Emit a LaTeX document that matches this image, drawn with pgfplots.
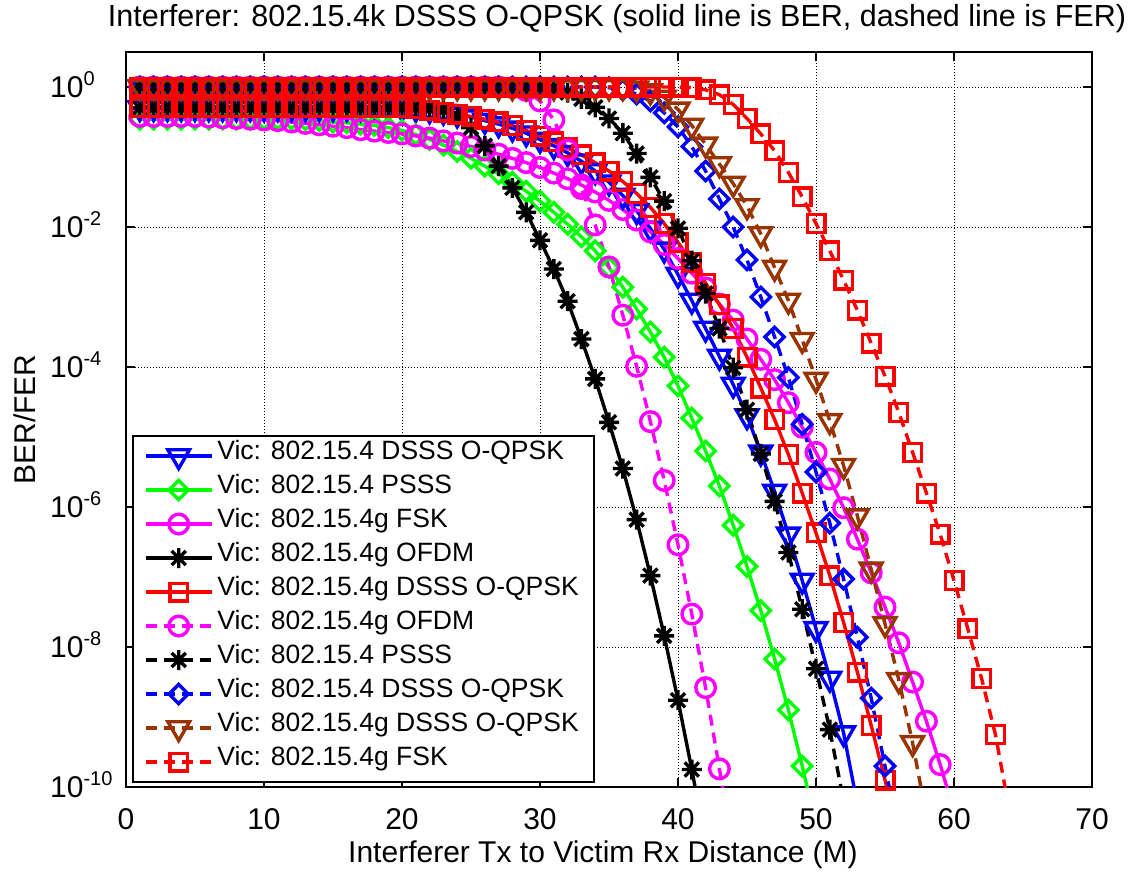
\documentclass[border=0pt]{standalone}
\usepackage{fontspec}
\setmainfont{Liberation Sans}
\usepackage{pgfplots}
\usepackage{pgfplotstable}
\pgfplotsset{compat=1.18}

\definecolor{vbrown}{rgb}{0.6,0.2,0}
\definecolor{vmag}{rgb}{1,0,1}
\definecolor{vgreen}{rgb}{0,1,0}
\definecolor{vblue}{rgb}{0,0,1}
\definecolor{vred}{rgb}{1,0,0}

% 8-arm asterisk like the matlab '*' marker
\pgfdeclareplotmark{ast8}{%
  \pgfpathmoveto{\pgfqpoint{-\pgfplotmarksize}{0pt}}\pgfpathlineto{\pgfqpoint{\pgfplotmarksize}{0pt}}%
  \pgfpathmoveto{\pgfqpoint{0pt}{-\pgfplotmarksize}}\pgfpathlineto{\pgfqpoint{0pt}{\pgfplotmarksize}}%
  \pgfpathmoveto{\pgfqpoint{-.7071\pgfplotmarksize}{-.7071\pgfplotmarksize}}\pgfpathlineto{\pgfqpoint{.7071\pgfplotmarksize}{.7071\pgfplotmarksize}}%
  \pgfpathmoveto{\pgfqpoint{-.7071\pgfplotmarksize}{.7071\pgfplotmarksize}}\pgfpathlineto{\pgfqpoint{.7071\pgfplotmarksize}{-.7071\pgfplotmarksize}}%
  \pgfusepathqstroke}

\newcommand{\tenexp}[1]{10\raisebox{12pt}{\fontsize{20}{20}\selectfont #1}}

% log10 of BER / FER, one table per curve
\pgfplotstableread[row sep=\\]{x l\\
1 -0.30\\ 2 -0.30\\ 3 -0.30\\ 4 -0.30\\ 5 -0.30\\ 6 -0.30\\ 7 -0.30\\ 8 -0.30\\ 9 -0.30\\ 10 -0.30\\
11 -0.30\\ 12 -0.30\\ 13 -0.30\\ 14 -0.30\\ 15 -0.30\\ 16 -0.30\\ 17 -0.30\\ 18 -0.30\\ 19 -0.30\\ 20 -0.30\\
21 -0.31\\ 22 -0.33\\ 23 -0.35\\ 24 -0.39\\ 25 -0.43\\ 26 -0.48\\ 27 -0.53\\ 28 -0.59\\ 29 -0.66\\ 30 -0.75\\
31 -0.84\\ 32 -0.94\\ 33 -1.06\\ 34 -1.20\\ 35 -1.36\\ 36 -1.55\\ 37 -1.77\\ 38 -2.02\\ 39 -2.32\\ 40 -2.68\\
41 -3.05\\ 42 -3.45\\ 43 -3.85\\ 44 -4.25\\ 45 -4.70\\ 46 -5.22\\ 47 -5.78\\ 48 -6.39\\ 49 -7.05\\ 50 -7.74\\
51 -8.45\\ 52 -9.23\\ 53 -10.25\\}\tblBS

\pgfplotstableread[row sep=\\]{x l\\
1 -0.46\\ 2 -0.46\\ 3 -0.46\\ 4 -0.46\\ 5 -0.46\\ 6 -0.46\\ 7 -0.46\\ 8 -0.46\\ 9 -0.46\\ 10 -0.46\\
11 -0.46\\ 12 -0.46\\ 13 -0.47\\ 14 -0.48\\ 15 -0.50\\ 16 -0.51\\ 17 -0.53\\ 18 -0.55\\ 19 -0.58\\ 20 -0.62\\
21 -0.68\\ 22 -0.75\\ 23 -0.83\\ 24 -0.92\\ 25 -1.02\\ 26 -1.13\\ 27 -1.24\\ 28 -1.36\\ 29 -1.49\\ 30 -1.63\\
31 -1.79\\ 32 -1.96\\ 33 -2.14\\ 34 -2.34\\ 35 -2.58\\ 36 -2.86\\ 37 -3.17\\ 38 -3.50\\ 39 -3.86\\ 40 -4.27\\
41 -4.73\\ 42 -5.20\\ 43 -5.70\\ 44 -6.26\\ 45 -6.85\\ 46 -7.48\\ 47 -8.17\\ 48 -8.90\\ 49 -9.70\\ 50 -10.55\\}\tblGS

\pgfplotstableread[row sep=\\]{x l\\
1 -0.42\\ 2 -0.42\\ 3 -0.42\\ 4 -0.42\\ 5 -0.42\\ 6 -0.43\\ 7 -0.44\\ 8 -0.45\\ 9 -0.46\\ 10 -0.47\\
11 -0.48\\ 12 -0.50\\ 13 -0.52\\ 14 -0.54\\ 15 -0.56\\ 16 -0.58\\ 17 -0.61\\ 18 -0.63\\ 19 -0.65\\ 20 -0.67\\
21 -0.70\\ 22 -0.73\\ 23 -0.77\\ 24 -0.80\\ 25 -0.85\\ 26 -0.90\\ 27 -0.96\\ 28 -1.02\\ 29 -1.08\\ 30 -1.15\\
31 -1.23\\ 32 -1.31\\ 33 -1.40\\ 34 -1.50\\ 35 -1.62\\ 36 -1.75\\ 37 -1.90\\ 38 -2.07\\ 39 -2.25\\ 40 -2.45\\
41 -2.66\\ 42 -2.87\\ 43 -3.10\\ 44 -3.33\\ 45 -3.60\\ 46 -3.89\\ 47 -4.18\\ 48 -4.51\\ 49 -4.86\\ 50 -5.22\\
51 -5.60\\ 52 -6.01\\ 53 -6.46\\ 54 -6.94\\ 55 -7.43\\ 56 -7.94\\ 57 -8.50\\ 58 -9.06\\ 59 -9.68\\ 60 -10.35\\}\tblMS

\pgfplotstableread[row sep=\\]{x l\\
1 -0.30\\ 2 -0.30\\ 3 -0.30\\ 4 -0.30\\ 5 -0.30\\ 6 -0.30\\ 7 -0.30\\ 8 -0.30\\ 9 -0.30\\ 10 -0.30\\
11 -0.30\\ 12 -0.30\\ 13 -0.30\\ 14 -0.30\\ 15 -0.30\\ 16 -0.30\\ 17 -0.30\\ 18 -0.30\\ 19 -0.30\\ 20 -0.30\\
21 -0.30\\ 22 -0.31\\ 23 -0.33\\ 24 -0.41\\ 25 -0.58\\ 26 -0.84\\ 27 -1.13\\ 28 -1.44\\ 29 -1.79\\ 30 -2.19\\
31 -2.60\\ 32 -3.06\\ 33 -3.60\\ 34 -4.17\\ 35 -4.79\\ 36 -5.45\\ 37 -6.18\\ 38 -6.98\\ 39 -7.84\\ 40 -8.76\\
41 -9.75\\ 42 -10.80\\}\tblKS

\pgfplotstableread[row sep=\\]{x l\\
1 -0.30\\ 2 -0.30\\ 3 -0.30\\ 4 -0.30\\ 5 -0.30\\ 6 -0.30\\ 7 -0.30\\ 8 -0.30\\ 9 -0.30\\ 10 -0.30\\
11 -0.30\\ 12 -0.30\\ 13 -0.30\\ 14 -0.30\\ 15 -0.30\\ 16 -0.30\\ 17 -0.30\\ 18 -0.30\\ 19 -0.30\\ 20 -0.30\\
21 -0.31\\ 22 -0.33\\ 23 -0.36\\ 24 -0.39\\ 25 -0.42\\ 26 -0.46\\ 27 -0.50\\ 28 -0.55\\ 29 -0.62\\ 30 -0.70\\
31 -0.78\\ 32 -0.87\\ 33 -0.97\\ 34 -1.08\\ 35 -1.20\\ 36 -1.35\\ 37 -1.52\\ 38 -1.72\\ 39 -1.95\\ 40 -2.22\\
41 -2.50\\ 42 -2.80\\ 43 -3.11\\ 44 -3.45\\ 45 -3.86\\ 46 -4.30\\ 47 -4.75\\ 48 -5.25\\ 49 -5.80\\ 50 -6.37\\
51 -6.98\\ 52 -7.65\\ 53 -8.36\\ 54 -9.12\\ 55 -9.90\\ 56 -10.75\\}\tblRS

\pgfplotstableread[row sep=\\]{x l\\
1 0\\ 2 0\\ 3 0\\ 4 0\\ 5 0\\ 6 0\\ 7 0\\ 8 0\\ 9 0\\ 10 0\\
11 0\\ 12 0\\ 13 0\\ 14 0\\ 15 0\\ 16 0\\ 17 0\\ 18 0\\ 19 0\\ 20 0\\
21 0\\ 22 0\\ 23 0\\ 24 0\\ 25 0\\ 26 0\\ 27 0\\ 28 -0.01\\ 29 -0.05\\ 30 -0.20\\
31 -0.47\\ 32 -0.90\\ 33 -1.45\\ 34 -1.97\\ 35 -2.57\\ 36 -3.26\\ 37 -3.99\\ 38 -4.78\\ 39 -5.62\\ 40 -6.54\\
41 -7.53\\ 42 -8.58\\ 43 -9.74\\ 44 -10.90\\}\tblMD

\pgfplotstableread[row sep=\\]{x l\\
1 0\\ 2 0\\ 3 0\\ 4 0\\ 5 0\\ 6 0\\ 7 0\\ 8 0\\ 9 0\\ 10 0\\
11 0\\ 12 0\\ 13 0\\ 14 0\\ 15 0\\ 16 0\\ 17 0\\ 18 0\\ 19 0\\ 20 0\\
21 0\\ 22 0\\ 23 0\\ 24 0\\ 25 0\\ 26 0\\ 27 0\\ 28 0\\ 29 0\\ 30 0\\
31 -0.02\\ 32 -0.08\\ 33 -0.17\\ 34 -0.29\\ 35 -0.45\\ 36 -0.66\\ 37 -0.95\\ 38 -1.29\\ 39 -1.63\\ 40 -2.02\\
41 -2.48\\ 42 -2.95\\ 43 -3.45\\ 44 -4.01\\ 45 -4.61\\ 46 -5.24\\ 47 -5.92\\ 48 -6.65\\ 49 -7.46\\ 50 -8.31\\
51 -9.18\\ 52 -10.20\\}\tblKD

\pgfplotstableread[row sep=\\]{x l\\
1 0\\ 2 0\\ 3 0\\ 4 0\\ 5 0\\ 6 0\\ 7 0\\ 8 0\\ 9 0\\ 10 0\\
11 0\\ 12 0\\ 13 0\\ 14 0\\ 15 0\\ 16 0\\ 17 0\\ 18 0\\ 19 0\\ 20 0\\
21 0\\ 22 0\\ 23 0\\ 24 0\\ 25 0\\ 26 0\\ 27 0\\ 28 0\\ 29 0\\ 30 0\\
31 0\\ 32 0\\ 33 0\\ 34 0\\ 35 -0.01\\ 36 -0.04\\ 37 -0.10\\ 38 -0.20\\ 39 -0.37\\ 40 -0.57\\
41 -0.85\\ 42 -1.20\\ 43 -1.60\\ 44 -2.00\\ 45 -2.47\\ 46 -3.00\\ 47 -3.57\\ 48 -4.15\\ 49 -4.82\\ 50 -5.50\\
51 -6.23\\ 52 -7.03\\ 53 -7.86\\ 54 -8.73\\ 55 -9.70\\ 56 -10.70\\}\tblBD

\pgfplotstableread[row sep=\\]{x l\\
1 0\\ 2 0\\ 3 0\\ 4 0\\ 5 0\\ 6 0\\ 7 0\\ 8 0\\ 9 0\\ 10 0\\
11 0\\ 12 0\\ 13 0\\ 14 0\\ 15 0\\ 16 0\\ 17 0\\ 18 0\\ 19 0\\ 20 0\\
21 0\\ 22 0\\ 23 0\\ 24 0\\ 25 0\\ 26 0\\ 27 0\\ 28 0\\ 29 0\\ 30 0\\
31 0\\ 32 0\\ 33 0\\ 34 0\\ 35 0\\ 36 0\\ 37 -0.02\\ 38 -0.06\\ 39 -0.15\\ 40 -0.32\\
41 -0.55\\ 42 -0.82\\ 43 -1.10\\ 44 -1.38\\ 45 -1.70\\ 46 -2.10\\ 47 -2.58\\ 48 -3.05\\ 49 -3.61\\ 50 -4.18\\
51 -4.77\\ 52 -5.41\\ 53 -6.13\\ 54 -6.89\\ 55 -7.67\\ 56 -8.47\\ 57 -9.37\\ 58 -10.42\\}\tblND

\pgfplotstableread[row sep=\\]{x l\\
1 0\\ 2 0\\ 3 0\\ 4 0\\ 5 0\\ 6 0\\ 7 0\\ 8 0\\ 9 0\\ 10 0\\
11 0\\ 12 0\\ 13 0\\ 14 0\\ 15 0\\ 16 0\\ 17 0\\ 18 0\\ 19 0\\ 20 0\\
21 0\\ 22 0\\ 23 0\\ 24 0\\ 25 0\\ 26 0\\ 27 0\\ 28 0\\ 29 0\\ 30 0\\
31 0\\ 32 0\\ 33 0\\ 34 0\\ 35 0\\ 36 0\\ 37 0\\ 38 0\\ 39 0\\ 40 0\\
41 -0.01\\ 42 -0.04\\ 43 -0.11\\ 44 -0.25\\ 45 -0.45\\ 46 -0.67\\ 47 -0.91\\ 48 -1.22\\ 49 -1.57\\ 50 -1.95\\
51 -2.34\\ 52 -2.76\\ 53 -3.19\\ 54 -3.66\\ 55 -4.13\\ 56 -4.65\\ 57 -5.22\\ 58 -5.80\\ 59 -6.39\\ 60 -7.05\\
61 -7.74\\ 62 -8.45\\ 63 -9.25\\ 64 -10.32\\}\tblRD

\pgfplotsset{
  ber/.style={line width=3.4pt, solid},
  fer/.style={line width=3.4pt, dash pattern=on 11pt off 7pt},
}

\begin{document}
\begin{tikzpicture}
\begin{axis}[
  scale only axis,
  width=966pt, height=735pt,
  xmin=0, xmax=70,
  ymode=log, ymin=1e-10, ymax=3.1623,
  xtick={0,10,...,70},
  ytick={1e-10,1e-8,1e-6,1e-4,1e-2,1},
  yticklabels={\tenexp{-10},\tenexp{-8},\tenexp{-6},\tenexp{-4},\tenexp{-2},\tenexp{0}},
  yminorticks=false,
  grid=major,
  grid style={black, line width=1pt, dash pattern=on 1.2pt off 1.8pt},
  axis line style={black, line width=2.5pt},
  tick style={black, line width=1.5pt},
  major tick length=9pt,
  tick align=inside,
  font=\fontsize{30}{36}\selectfont,
  /pgf/number format/assume math mode=true,
  xticklabel style={anchor=base, yshift=-42pt},
  yticklabel style={anchor=base west, inner sep=0pt, xshift=-76pt, yshift=-10.5pt},
  title={Interferer: 802.15.4k DSSS O-QPSK (solid line is BER, dashed line is FER)},
  title style={at={(rel axis cs:0.5,1)}, anchor=base, yshift=20pt, xshift=8pt, font=\fontsize{30.5}{36}\selectfont},
  xlabel={Interferer Tx to Victim Rx Distance (M)},
  xlabel style={at={(rel axis cs:0.5,0)}, anchor=base, yshift=-75pt, xshift=-6pt},
  ylabel={BER/FER},
  ylabel style={at={(rel axis cs:0,0.5)}, anchor=center, yshift=101pt},
  legend style={at={(rel axis cs:0,0)}, anchor=south west, xshift=6pt, yshift=4pt,
    draw=black, line width=2pt, fill=white,
    font=\fontsize{26.5}{31}\selectfont,
    inner xsep=11pt, inner ysep=3pt, row sep=0pt,
    nodes={inner xsep=4pt, inner ysep=0pt, text height=20pt, text depth=14pt}},
  legend cell align=left,
  legend image code/.code={\draw[mark repeat=2,mark phase=2,#1] plot coordinates {(0pt,0pt)(33pt,0pt)(66pt,0pt)};},
]
\addplot[ber, vblue, mark=triangle, mark size=12.5pt, mark options={solid, rotate=180}] table[x=x, y expr=10^\thisrow{l}] {\tblBS};
\addplot[ber, vgreen, mark=square, mark size=6.8pt, mark options={solid, rotate=45}] table[x=x, y expr=10^\thisrow{l}] {\tblGS};
\addplot[ber, vmag, mark=o, mark size=9.8pt, mark options={solid}] table[x=x, y expr=10^\thisrow{l}] {\tblMS};
\addplot[ber, black, mark=ast8, mark size=10pt, mark options={solid}] table[x=x, y expr=10^\thisrow{l}] {\tblKS};
\addplot[ber, vred, mark=square, mark size=8.8pt, mark options={solid}] table[x=x, y expr=10^\thisrow{l}] {\tblRS};
\addplot[fer, vmag, mark=o, mark size=9.8pt, mark options={solid}] table[x=x, y expr=10^\thisrow{l}] {\tblMD};
\addplot[fer, black, mark=ast8, mark size=10pt, mark options={solid}] table[x=x, y expr=10^\thisrow{l}] {\tblKD};
\addplot[fer, vblue, mark=square, mark size=6.8pt, mark options={solid, rotate=45}] table[x=x, y expr=10^\thisrow{l}] {\tblBD};
\addplot[fer, vbrown, mark=triangle, mark size=12.5pt, mark options={solid, rotate=180}] table[x=x, y expr=10^\thisrow{l}] {\tblND};
\addplot[fer, vred, mark=square, mark size=8.8pt, mark options={solid}] table[x=x, y expr=10^\thisrow{l}] {\tblRD};
\legend{Vic: 802.15.4 DSSS O-QPSK, Vic: 802.15.4 PSSS, Vic: 802.15.4g FSK, Vic: 802.15.4g OFDM, Vic: 802.15.4g DSSS O-QPSK, Vic: 802.15.4g OFDM, Vic: 802.15.4 PSSS, Vic: 802.15.4 DSSS O-QPSK, Vic: 802.15.4g DSSS O-QPSK, Vic: 802.15.4g FSK}
\end{axis}
\pgfresetboundingbox
\path[use as bounding box] ([shift={(-126pt,-86pt)}]current axis.south west) rectangle ([shift={(50pt,52pt)}]current axis.north east);
\end{tikzpicture}
\end{document}
